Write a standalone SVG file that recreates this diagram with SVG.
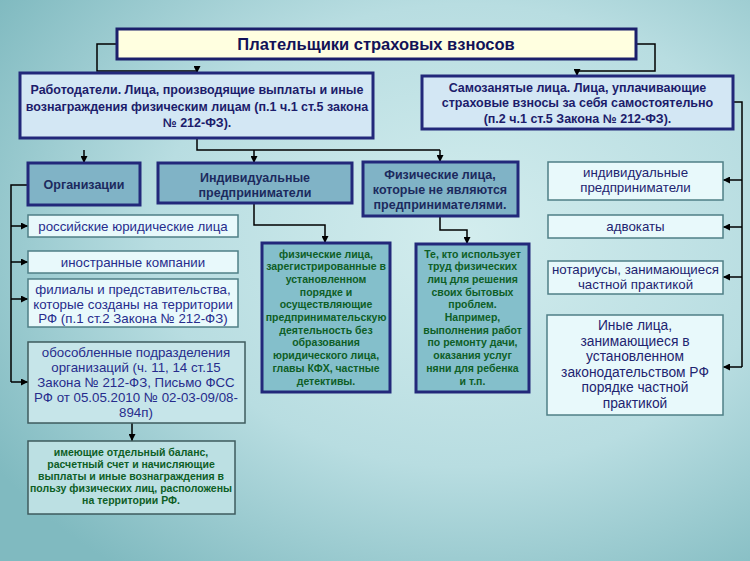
<svg xmlns="http://www.w3.org/2000/svg" width="750" height="561" viewBox="0 0 750 561">
<defs>
<radialGradient id="bg" cx="0.62" cy="0.42" r="0.75">
<stop offset="0" stop-color="#D3EDEE"/>
<stop offset="0.55" stop-color="#B8DDE1"/>
<stop offset="1" stop-color="#80BAC0"/>
</radialGradient>
<marker id="ar" viewBox="0 0 8 8" refX="8" refY="4" markerWidth="7" markerHeight="7" orient="auto" markerUnits="userSpaceOnUse">
<path d="M0,0 L8,4 L0,8 z" fill="#000"/>
</marker>
<style>
.b-title{fill:#FFFFE0;stroke:#1B1F6B;stroke-width:3}
.b-hdr{fill:#D3E7F4;stroke:#22287A;stroke-width:3}
.b-mid{fill:#80B3C6;stroke:#22287A;stroke-width:3}
.b-list{fill:#E8F9FB;stroke:#4F7F86;stroke-width:1.5}
.b-sub{fill:#C6E5E9;stroke:#3E5B5E;stroke-width:1.5}
.b-bot{fill:#BCE0E3;stroke:#3E5B5E;stroke-width:1.5}
.b-green{fill:#84BFCB;stroke:#22287A;stroke-width:3}
text{font-family:"Liberation Sans",Arial,sans-serif;text-anchor:middle}
.t-title{font-size:16.5px;font-weight:bold;fill:#121258}
.t-hdr{font-size:12.5px;font-weight:bold;fill:#1C1C6B}
.t-mid{font-size:12.5px;font-weight:bold;fill:#1C2A5E}
.t-list{font-size:13.3px;fill:#262C8C}
.t-right{font-size:13.3px;fill:#1E2470}
.t-big{font-size:13.8px;fill:#1E2470}
.t-green{font-size:10.5px;font-weight:bold;fill:#0E5E26}
.c{fill:none;stroke:#000;stroke-width:1.5}
</style>
</defs>
<rect width="750" height="561" fill="url(#bg)"/>

<g id="connectors">
<path class="c" d="M117,44 H97 V71 H197 V73" marker-end="url(#ar)"/>
<path class="c" d="M636,44 H655 V71 H577 V76" marker-end="url(#ar)"/>
<path class="c" d="M197,138 V150 H440"/>
<path class="c" d="M84,150 V163" marker-end="url(#ar)"/>
<path class="c" d="M254,150 V163" marker-end="url(#ar)"/>
<path class="c" d="M440,150 V162" marker-end="url(#ar)"/>
<path class="c" d="M28,185 H11 V382"/>
<path class="c" d="M11,226 H28" marker-end="url(#ar)"/>
<path class="c" d="M11,262 H28" marker-end="url(#ar)"/>
<path class="c" d="M11,299 H28" marker-end="url(#ar)"/>
<path class="c" d="M11,382 H28" marker-end="url(#ar)"/>
<path class="c" d="M132,423 V441" marker-end="url(#ar)"/>
<path class="c" d="M254,203 V225 H325 V243" marker-end="url(#ar)"/>
<path class="c" d="M440,216 V230 H467 V244" marker-end="url(#ar)"/>
<path class="c" d="M733,102 H742 V367"/>
<path class="c" d="M742,180 H723" marker-end="url(#ar)"/>
<path class="c" d="M742,227 H723" marker-end="url(#ar)"/>
<path class="c" d="M742,277 H723" marker-end="url(#ar)"/>
<path class="c" d="M742,367 H723" marker-end="url(#ar)"/>
</g>

<g id="title">
<rect class="b-title" x="117" y="29" width="519" height="30"/>
<text class="t-title" x="376" y="50">Плательщики страховых взносов</text>
</g>

<g id="employers">
<rect class="b-hdr" x="20" y="73" width="353" height="65"/>
<text class="t-hdr" x="197" y="94">Работодатели. Лица, производящие выплаты и иные</text>
<text class="t-hdr" x="197" y="111">вознаграждения физическим лицам (п.1 ч.1 ст.5 закона</text>
<text class="t-hdr" x="197" y="127">№ 212-ФЗ).</text>
</g>

<g id="selfemployed">
<rect class="b-hdr" x="422" y="76" width="311" height="53"/>
<text class="t-hdr" x="577.5" y="92">Самозанятые лица. Лица, уплачивающие</text>
<text class="t-hdr" x="577.5" y="107">страховые взносы за себя самостоятельно</text>
<text class="t-hdr" x="577.5" y="123">(п.2 ч.1 ст.5 Закона № 212-ФЗ).</text>
</g>

<g id="organizations">
<rect class="b-mid" x="28" y="163" width="112" height="42"/>
<text class="t-mid" x="84" y="189">Организации</text>
</g>

<g id="ip">
<rect class="b-mid" x="158" y="163" width="194" height="40"/>
<text class="t-mid" x="255" y="182">Индивидуальные</text>
<text class="t-mid" x="255" y="197">предприниматели</text>
</g>

<g id="individuals">
<rect class="b-mid" x="363" y="162" width="155" height="54"/>
<text class="t-mid" x="440" y="179">Физические лица,</text>
<text class="t-mid" x="440" y="194">которые не являются</text>
<text class="t-mid" x="440" y="209">предпринимателями.</text>
</g>

<g id="russian">
<rect class="b-list" x="28" y="215" width="210" height="22"/>
<text class="t-list" x="133" y="230.5">российские юридические лица</text>
</g>

<g id="foreign">
<rect class="b-list" x="28" y="251" width="210" height="22"/>
<text class="t-list" x="133" y="266.5">иностранные компании</text>
</g>

<g id="branches">
<rect class="b-list" x="28" y="279" width="210" height="48"/>
<text class="t-list" x="133" y="294">филиалы и представительства,</text>
<text class="t-list" x="133" y="309">которые созданы на территории</text>
<text class="t-list" x="133" y="323">РФ (п.1 ст.2 Закона № 212-ФЗ)</text>
</g>

<g id="subdivisions">
<rect class="b-sub" x="28" y="342" width="217" height="81"/>
<text class="t-list" x="136" y="357">обособленные подразделения</text>
<text class="t-list" x="136" y="372">организаций (ч. 11, 14 ст.15</text>
<text class="t-list" x="136" y="387">Закона № 212-ФЗ, Письмо ФСС</text>
<text class="t-list" x="136" y="402">РФ от 05.05.2010 № 02-03-09/08-</text>
<text class="t-list" x="136" y="417">894п)</text>
</g>

<g id="balance">
<rect class="b-bot" x="28" y="441" width="207" height="73"/>
<text class="t-green" x="131" y="456">имеющие отдельный баланс,</text>
<text class="t-green" x="131" y="468">расчетный счет и начисляющие</text>
<text class="t-green" x="131" y="480">выплаты и иные вознаграждения в</text>
<text class="t-green" x="131" y="492">пользу физических лиц, расположены</text>
<text class="t-green" x="131" y="504">на территории РФ.</text>
</g>

<g id="ip-desc">
<rect class="b-green" x="262" y="243" width="128" height="149"/>
<text class="t-green" x="326" y="257.5">физические лица,</text>
<text class="t-green" x="326" y="270.2">зарегистрированные в</text>
<text class="t-green" x="326" y="282.9">установленном</text>
<text class="t-green" x="326" y="295.6">порядке и</text>
<text class="t-green" x="326" y="308.3">осуществляющие</text>
<text class="t-green" x="326" y="321">предпринимательскую</text>
<text class="t-green" x="326" y="333.7">деятельность без</text>
<text class="t-green" x="326" y="346.4">образования</text>
<text class="t-green" x="326" y="359.1">юридического лица,</text>
<text class="t-green" x="326" y="371.8">главы КФХ, частные</text>
<text class="t-green" x="326" y="384.5">детективы.</text>
</g>

<g id="ind-desc">
<rect class="b-green" x="416" y="244" width="113" height="148"/>
<text class="t-green" x="472.5" y="257.5">Те, кто использует</text>
<text class="t-green" x="472.5" y="270.2">труд физических</text>
<text class="t-green" x="472.5" y="282.9">лиц для решения</text>
<text class="t-green" x="472.5" y="295.6">своих бытовых</text>
<text class="t-green" x="472.5" y="308.3">проблем.</text>
<text class="t-green" x="472.5" y="321">Например,</text>
<text class="t-green" x="472.5" y="333.7">выполнения работ</text>
<text class="t-green" x="472.5" y="346.4">по ремонту дачи,</text>
<text class="t-green" x="472.5" y="359.1">оказания услуг</text>
<text class="t-green" x="472.5" y="371.8">няни для ребенка</text>
<text class="t-green" x="472.5" y="384.5">и т.п.</text>
</g>

<g id="r-ip">
<rect class="b-list" x="548" y="162" width="175" height="38"/>
<text class="t-right" x="635.5" y="177">индивидуальные</text>
<text class="t-right" x="635.5" y="192">предприниматели</text>
</g>

<g id="lawyers">
<rect class="b-list" x="548" y="215" width="175" height="23"/>
<text class="t-right" x="635.5" y="231">адвокаты</text>
</g>

<g id="notaries">
<rect class="b-list" x="548" y="261" width="175" height="33"/>
<text class="t-right" x="635.5" y="274">нотариусы, занимающиеся</text>
<text class="t-right" x="635.5" y="289">частной практикой</text>
</g>

<g id="others">
<rect class="b-list" x="547" y="315" width="176" height="100"/>
<text class="t-big" x="635" y="330">Иные лица,</text>
<text class="t-big" x="635" y="345.5">занимающиеся в</text>
<text class="t-big" x="635" y="361">установленном</text>
<text class="t-big" x="635" y="376.5">законодательством РФ</text>
<text class="t-big" x="635" y="392">порядке частной</text>
<text class="t-big" x="635" y="407.5">практикой</text>
</g>
</svg>
